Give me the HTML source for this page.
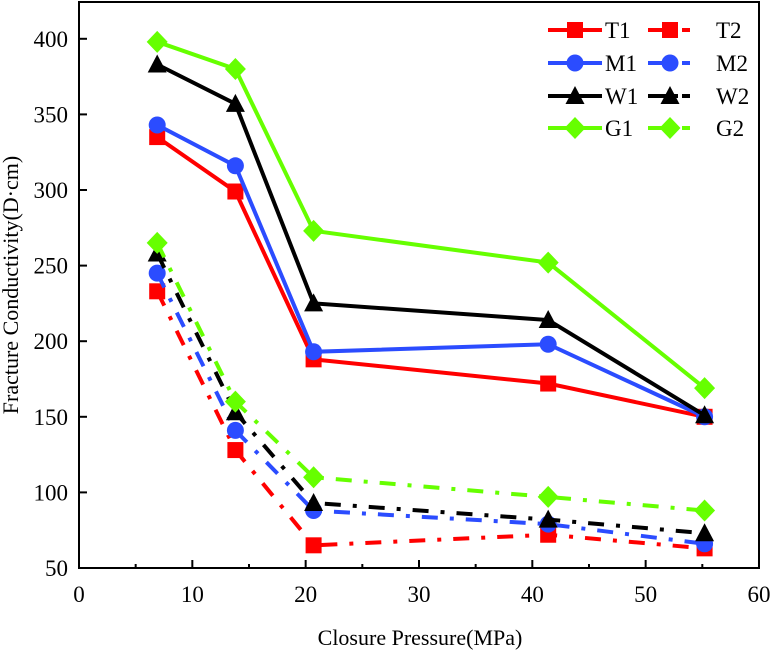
<!DOCTYPE html>
<html><head><meta charset="utf-8"><style>
body{margin:0;background:#fff}
svg{display:block;font-family:"Liberation Serif",serif}
</style></head><body>
<svg id="chart" width="773" height="652">
<rect x="79" y="2" width="680" height="566" fill="none" stroke="#000" stroke-width="2"/>
<g id="axes"></g>
<g id="series"></g>
<g id="legend"></g>
<text x="420" y="645" font-size="22" text-anchor="middle">Closure Pressure(MPa)</text>
<text transform="translate(18,285) rotate(-90)" font-size="22" text-anchor="middle">Fracture Conductivity(D·cm)</text>
</svg>
<script>
const pressures=[6.9,13.8,20.7,41.4,55.2];
const T1=[335,299,188,172,150];
const M1=[343,316,193,198,150];
const W1=[383,357,225,214,151];
const G1=[398,380,273,252,169];
const T2=[233,128,65,72,63];
const M2=[245,141,88,79,66];
const W2=[258,153,93,82,73];
const G2=[265,160,110,97,88];
const xTicks=[0,10,20,30,40,50,60];
const yTicks=[50,100,150,200,250,300,350,400];
const NS="http://www.w3.org/2000/svg";
const X=v=>79+v*11.333;
const Y=v=>568-(v-50)*1.512;
function mk(tag,attrs,parent){const e=document.createElementNS(NS,tag);for(const k in attrs)e.setAttribute(k,attrs[k]);parent.appendChild(e);return e;}
const axes=document.getElementById('axes');
xTicks.forEach((t,i)=>{
 const l=mk('line',{x1:X(t),x2:X(t),y1:568,y2:560,stroke:'#000','stroke-width':2},axes);
 
 
 if(i<xTicks.length-1){const m=mk('line',{x1:X(t+5),x2:X(t+5),y1:568,y2:564,stroke:'#000','stroke-width':2},axes);
 
 }
 const tx=mk('text',{x:X(t),y:602,'font-size':23,'text-anchor':'middle'},axes);tx.textContent=t;
 
 
});
yTicks.forEach(t=>{
 const l=mk('line',{x1:79,x2:87,y1:Y(t),y2:Y(t),stroke:'#000','stroke-width':2},axes);
 
 
 const tx=mk('text',{x:68,y:Y(t)+8,'font-size':23,'text-anchor':'end'},axes);tx.textContent=t;
 
 
});
function marker(g,shape,cx,cy,color){
 let e;
 if(shape==='square')e=mk('rect',{x:cx-8,y:cy-8,width:16,height:16,fill:color},g);
 else if(shape==='circle')e=mk('circle',{cx:cx,cy:cy,r:8.5,fill:color},g);
 else if(shape==='tri')e=mk('polygon',{points:`${cx},${cy-10} ${cx-9.5},${cy+8} ${cx+9.5},${cy+8}`,fill:color},g);
 else e=mk('polygon',{points:`${cx},${cy-11} ${cx+10.5},${cy} ${cx},${cy+11} ${cx-10.5},${cy}`,fill:color},g);
 return e;
}
const series=[
 {n:'T1',d:T1,c:'#ff0000',s:'square',dash:false},
 {n:'M1',d:M1,c:'#2b4cff',s:'circle',dash:false},
 {n:'W1',d:W1,c:'#000000',s:'tri',dash:false},
 {n:'G1',d:G1,c:'#66ff00',s:'diamond',dash:false},
 {n:'T2',d:T2,c:'#ff0000',s:'square',dash:true},
 {n:'M2',d:M2,c:'#2b4cff',s:'circle',dash:true},
 {n:'W2',d:W2,c:'#000000',s:'tri',dash:true},
 {n:'G2',d:G2,c:'#66ff00',s:'diamond',dash:true}
];
const sg=document.getElementById('series');
series.forEach(se=>{
 const g=mk('g',{},sg);
 
 
 const attrs={points:se.d.map((v,i)=>X(pressures[i])+','+Y(v)).join(' '),fill:'none',stroke:se.c,'stroke-width':4};
 if(se.dash)attrs['stroke-dasharray']='16,12,4,12';
 const pl=mk('polyline',attrs,g);
 
 
 se.d.forEach((v,i)=>{const m=marker(g,se.s,X(pressures[i]),Y(v),se.c);
 
 });
});
const lg=document.getElementById('legend');
const order=[[0,4],[1,5],[2,6],[3,7]];
const rowsY=[30,63,96,128];
order.forEach((row,r)=>{
 row.forEach((idx,c)=>{
  const se=series[idx];const y=rowsY[r];const x0=c?648:548;const x1=c?690:602;
  const g=mk('g',{},lg);
  
  
  const a={x1:x0,x2:x1,y1:y,y2:y,stroke:se.c,'stroke-width':4};
  if(se.dash)a['stroke-dasharray']='22,4,4,4';
  mk('line',a,g);
  marker(g,se.s,c?670:575,y,se.c);
  const t=mk('text',{x:c?716:605,y:y+8,'font-size':23},g);t.textContent=se.n;
 });
});
</script>
</body></html>
